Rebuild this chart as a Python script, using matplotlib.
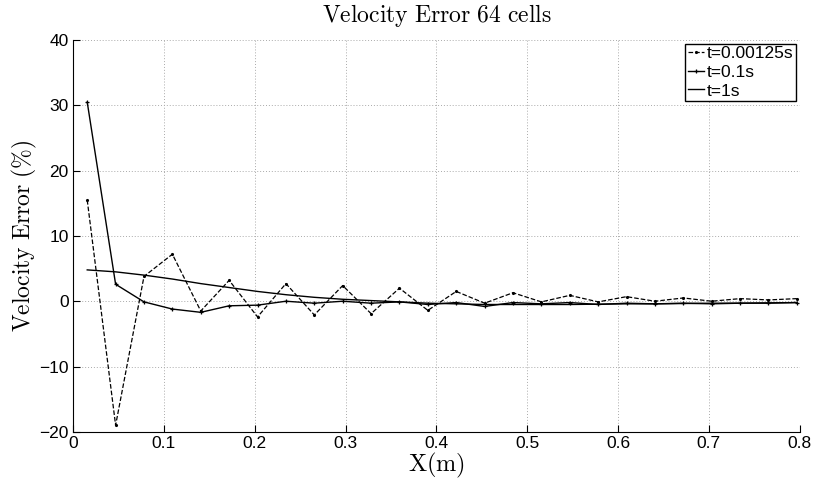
import numpy as np
import matplotlib
matplotlib.use('Agg')
import matplotlib.pyplot as plt

plt.rcParams['font.family'] = ['Liberation Sans', 'DejaVu Sans']
plt.rcParams['mathtext.fontset'] = 'cm'

# cell centres, 64 cells (only the first 26 shown, up to 0.8 m)
xCells = (np.arange(26) + 0.5) / 32.0

# velocity error (%) at the three times
err_t000125 = [15.5, -19.0, 3.8, 7.2, -1.5, 3.2, -2.4, 2.7, -2.1, 2.4, -1.9, 2.0, -1.4,
               1.5, -0.3, 1.3, -0.1, 0.9, -0.1, 0.7, 0.0, 0.5, 0.0, 0.4, 0.2, 0.4]
err_t01 = [30.5, 2.6, -0.1, -1.2, -1.7, -0.7, -0.6, 0.0, -0.3, 0.0, -0.3, -0.1, -0.5,
           -0.2, -0.8, -0.2, -0.4, -0.2, -0.5, -0.3, -0.4, -0.3, -0.4, -0.3, -0.3, -0.2]
err_t1 = [4.8, 4.5, 4.0, 3.4, 2.7, 2.1, 1.5, 1.0, 0.6, 0.3, 0.1, -0.1, -0.3,
          -0.4, -0.5, -0.5, -0.5, -0.5, -0.45, -0.4, -0.4, -0.35, -0.3, -0.3, -0.25, -0.2]

fig = plt.figure(figsize=(8.16, 4.83), dpi=100)
ax = fig.add_axes([0.0895, 0.106, 0.8905, 0.811])

ax.plot(xCells, err_t000125, '--', color='black', linewidth=0.9,
        marker='.', markersize=2.5, label='t=0.00125s')
ax.plot(xCells, err_t01, '-', color='black', linewidth=1.0,
        marker='+', markersize=3.5, markeredgewidth=0.9, label='t=0.1s')
ax.plot(xCells, err_t1, '-', color='black', linewidth=1.0, label='t=1s')

ax.set_xlim(0, 0.8)
ax.set_ylim(-20, 40)
ax.set_xticks(np.arange(0, 0.81, 0.1))
ax.set_xticklabels(['0', '0.1', '0.2', '0.3', '0.4', '0.5', '0.6', '0.7', '0.8'])
ax.set_yticks(np.arange(-20, 41, 10))
ax.set_yticklabels(['\u221220', '\u221210', '0', '10', '20', '30', '40'])

ax.grid(True, linestyle=(0, (1, 2)), color='#aaaaaa', linewidth=0.7)
ax.spines['top'].set_visible(False)
ax.spines['right'].set_visible(False)
ax.tick_params(direction='in', length=5, labelsize=12.5, pad=3, colors='black')

ax.set_title(r'$\mathrm{Velocity\ Error\ 64\ cells}$', fontsize=17, pad=13)
ax.set_xlabel(r'$\mathrm{X(m)}$', fontsize=17.5, labelpad=0)
ax.set_ylabel(r'$\mathrm{Velocity\ Error\ (\%)}$', fontsize=17, labelpad=0)

leg = ax.legend(loc='upper right', fontsize=12.5, frameon=True, fancybox=False,
                handlelength=0.9, handletextpad=0.2, borderpad=0.15,
                labelspacing=0.2, borderaxespad=0.2)
leg.get_frame().set_edgecolor('black')
leg.get_frame().set_linewidth(1.0)
leg.get_frame().set_alpha(1)

fig.savefig('out.png', dpi=100)
